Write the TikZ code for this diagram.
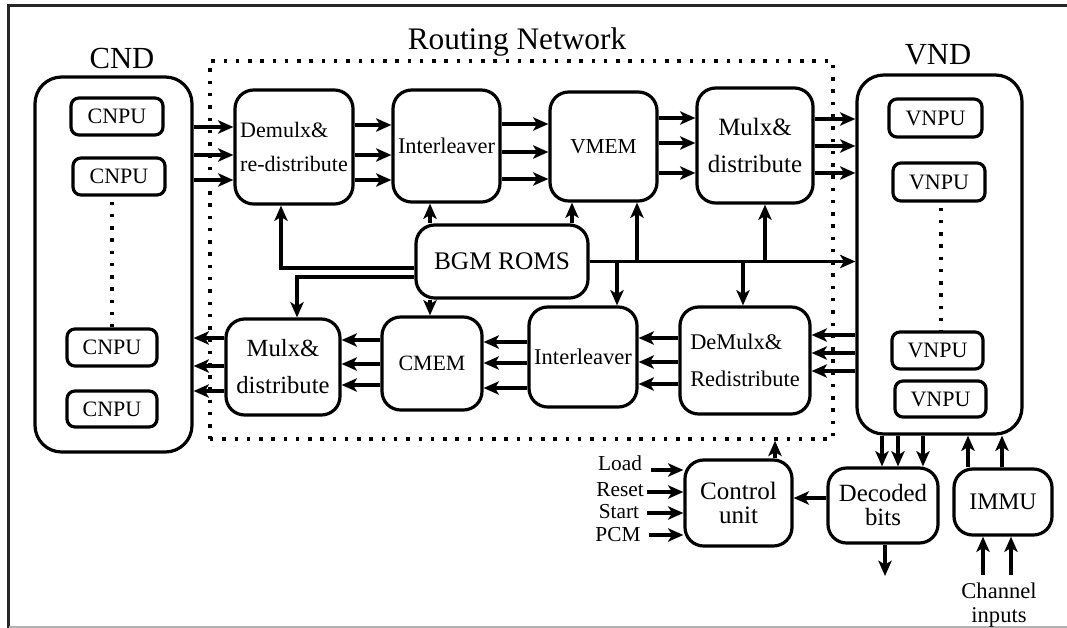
\documentclass[tikz,border=0pt]{standalone}
\usepackage{fontspec}
\setmainfont{Liberation Serif}
\usetikzlibrary{arrows.meta}
\begin{document}
\begin{tikzpicture}[x=0.75pt,y=-0.75pt,
  px/.style 2 args={minimum width=#1*0.75pt, minimum height=#2*0.75pt},
  fsz/.style 2 args={font=\fontsize{#1}{#2}\selectfont},
  blk/.style={draw, line width=2.4pt, rounded corners=14pt, inner sep=0pt, align=center},
  grp/.style={draw, line width=2.4pt, rounded corners=20pt, inner sep=0pt},
  pu/.style={draw, line width=2.4pt, rounded corners=6pt, inner sep=0pt, fsz={16.5}{20}},
  arr/.style={line width=2.3pt, -{Stealth[length=11.5pt,width=10pt,inset=3pt]}},
  dotln/.style={line width=2.6pt, dash pattern=on 2.6pt off 6.6pt},
  lbl/.style={inner sep=0pt}]
\useasboundingbox (0,0) rectangle (1067,628);

% outer frame
\draw[line width=1.8pt, black!85] (1067,5.5) -- (8.5,5.5) -- (8.5,628);
\draw[line width=0.8pt, black!30] (8.5,627) -- (1067,627);

% routing network region
\node[dotln, draw, inner sep=0pt, px={623}{378}] (net) at (521.5,250) {};
\node[lbl, fsz={23.5}{28}] (netlbl) at (517,42) {Routing Network};

% check node decoder
\node[grp, px={157}{375}] (cnd) at (113.5,264.5) {};
\node[lbl, fsz={23}{28}] (cndlbl) at (122,58) {CND};
\node[pu, px={92}{37}] (cnpu1) at (117,116.5) {CNPU};
\node[pu, px={92}{37}] (cnpu2) at (119,176.5) {CNPU};
\node[pu, px={90}{37}] (cnpu3) at (112,347.5) {CNPU};
\node[pu, px={90}{36}] (cnpu4) at (112,409) {CNPU};
\draw[dotln] (cnpu2.south -| 112,0) ++(0,5) -- (cnpu3.north -| 112,0);

% variable node decoder
\node[grp, px={165}{359}] (vnd) at (939.5,254.5) {};
\node[lbl, fsz={23}{28}] (vndlbl) at (938,55) {VND};
\node[pu, px={93}{38}] (vnpu1) at (935.5,118) {VNPU};
\node[pu, px={92}{38}] (vnpu2) at (939,182) {VNPU};
\node[pu, px={91}{37}] (vnpu3) at (937.5,350.5) {VNPU};
\node[pu, px={91}{36}] (vnpu4) at (940.5,399) {VNPU};
\draw[dotln] (vnpu2.south -| 941,0) ++(0,5) -- (vnpu3.north -| 941,0);

% upper path blocks
\node[blk, px={118}{114}, fsz={16.5}{25.5}, align=left] (demux) at (294,147) {Demulx\&\\re-distribute};
\node[blk, px={107}{112}, fsz={16.8}{20}] (intt) at (446.5,146) {Interleaver};
\node[blk, px={107}{109}, fsz={16}{20}] (vmem) at (603.5,146.5) {VMEM};
\node[blk, px={116}{115}, fsz={18.7}{27.8}] (muxt) at (755,145.5) {Mulx\&\\distribute};

% lower path blocks
\node[blk, px={114}{96}, fsz={18.5}{27.8}] (muxb) at (283,367) {Mulx\&\\distribute};
\node[blk, px={100}{93}, fsz={16.4}{20}] (cmem) at (432,363.5) {CMEM};
\node[blk, px={108}{100}, fsz={16.9}{20}] (intb) at (583,357) {Interleaver};
\node[blk, px={130}{107}, fsz={16.8}{27.5}, align=left] (demuxb) at (745,360.5) {DeMulx\&\\Redistribute};

% ROM block
\node[blk, px={172}{73}, fsz={19}{22}] (bgm) at (502,261.5) {BGM ROMS};

% control and output blocks
\node[blk, px={107}{86}, fsz={18.8}{17.5}] (ctrl) at (738.5,503) {Control\\unit};
\node[blk, px={110}{75}, fsz={18.6}{18}] (dec) at (883,505.5) {Decoded\\bits};
\node[blk, px={98}{66}, fsz={17.8}{20}] (immu) at (1003,502) {IMMU};

% upper path data flow
\foreach \y in {127,155,180} \draw[arr] (cnd.east |- 0,\y) -- (demux.west |- 0,\y);
\foreach \y in {125,155,180} \draw[arr] (demux.east |- 0,\y) -- (intt.west |- 0,\y);
\foreach \y in {124,152,179} \draw[arr] (intt.east |- 0,\y) -- (vmem.west |- 0,\y);
\foreach \y in {118,143,173} \draw[arr] (vmem.east |- 0,\y) -- (muxt.west |- 0,\y);
\foreach \y in {119,146,173} \draw[arr] (muxt.east |- 0,\y) -- (vnd.west |- 0,\y);

% lower path data flow
\foreach \y in {335,353,371} \draw[arr] (vnd.west |- 0,\y) -- (demuxb.east |- 0,\y);
\foreach \y in {338,362,384} \draw[arr] (demuxb.west |- 0,\y) -- (intb.east |- 0,\y);
\foreach \y in {342,363,388} \draw[arr] (intb.west |- 0,\y) -- (cmem.east |- 0,\y);
\foreach \y in {340,364,385} \draw[arr] (cmem.west |- 0,\y) -- (muxb.east |- 0,\y);
\foreach \y in {338,366,391} \draw[arr] (muxb.west |- 0,\y) -- (cnd.east |- 0,\y);

% ROM distribution
\draw[arr] (bgm.west |- 0,268) -| (demux.south -| 281,0);
\draw[arr] (bgm.west |- 0,277) -| (muxb.north -| 297,0);
\draw[arr] (bgm.north -| 430,0) -- (intt.south -| 430,0);
\draw[arr] (bgm.north -| 572,0) -- (vmem.south -| 572,0);
\draw[arr] (bgm.south -| 430,0) -- (cmem.north -| 430,0);
\draw[arr] (bgm.east) -- (vnd.west |- bgm.east);
\draw[arr] (bgm.east -| 637,0) -- (vmem.south -| 637,0);
\draw[arr] (bgm.east -| 765,0) -- (muxt.south -| 765,0);
\draw[arr] (bgm.east -| 617,0) -- (intb.north -| 617,0);
\draw[arr] (bgm.east -| 743,0) -- (demuxb.north -| 743,0);

% control inputs
\node[lbl, fsz={16}{20}] (load) at (620,463) {Load};
\node[lbl, fsz={16}{20}] (reset) at (620,489.5) {Reset};
\node[lbl, fsz={16}{20}] (start) at (619,512) {Start};
\node[lbl, fsz={16}{20}] (pcm) at (618,535) {PCM};
\coordinate (inLoad) at (651,470);
\coordinate (inReset) at (647,492);
\coordinate (inStart) at (647,513);
\coordinate (inPcm) at (649,535);
\draw[arr] (inLoad) -- (ctrl.west |- inLoad);
\draw[arr] (inReset) -- (ctrl.west |- inReset);
\draw[arr] (inStart) -- (ctrl.west |- inStart);
\draw[arr] (inPcm) -- (ctrl.west |- inPcm);
\draw[arr] (ctrl.north -| 775,0) -- (net.south -| 775,0);

% decoded bits
\draw[arr] (dec.west |- 0,498) -- (ctrl.east |- 0,498);
\coordinate (decOut) at (885,576);
\draw[arr] (dec.south -| decOut) -- (decOut);
\foreach \x in {882,898,923} \draw[arr] (vnd.south -| \x,0) -- (dec.north -| \x,0);

% channel inputs
\foreach \x in {968,1002} \draw[arr] (immu.north -| \x,0) -- (vnd.south -| \x,0);
\coordinate (ch1) at (983,575);
\coordinate (ch2) at (1011,575);
\draw[arr] (ch1) -- (immu.south -| ch1);
\draw[arr] (ch2) -- (immu.south -| ch2);
\node[lbl, fsz={16.9}{20}, anchor=base] (chan) at (999,598) {Channel};
\node[lbl, fsz={16.9}{20}, anchor=base] (chin) at (999,622) {inputs};
\end{tikzpicture}
\end{document}
